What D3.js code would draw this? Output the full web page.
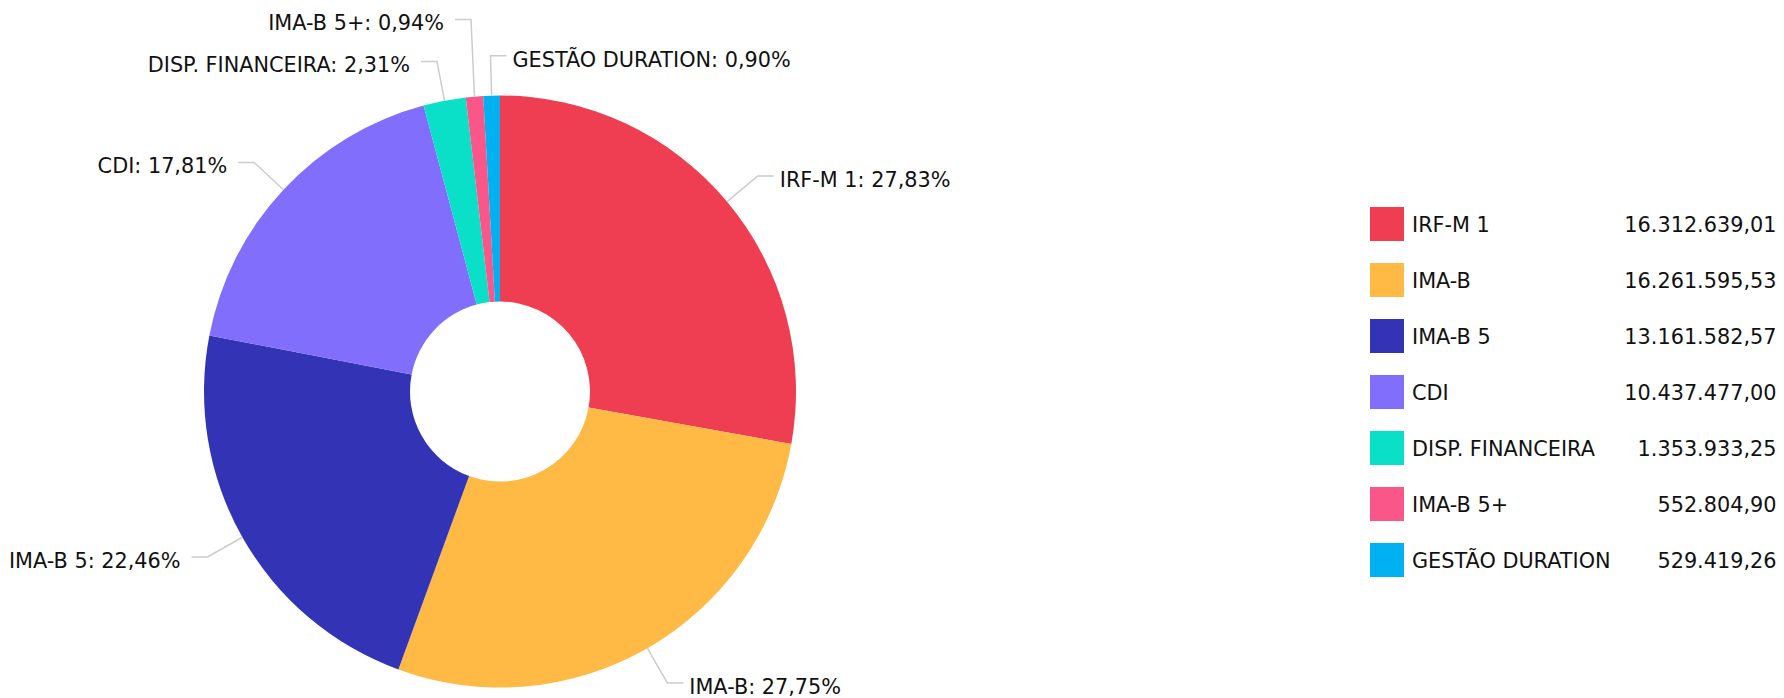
<!DOCTYPE html>
<html>
<head>
<meta charset="utf-8">
<script src="https://cdn.jsdelivr.net/npm/d3@7"></script>
<style>
  html, body { margin: 0; padding: 0; background: #fff; }
  svg { display: block; }
  text { font-family: Verdana, "DejaVu Sans", sans-serif; fill: #111; }
</style>
</head>
<body>
<svg id="chart" width="1784" height="698"></svg>
<script>
// ---- data ----
const categories = ["IRF-M 1", "IMA-B", "IMA-B 5", "CDI", "DISP. FINANCEIRA", "IMA-B 5+", "GESTÃO DURATION"];
const values = [16312639.01, 16261595.53, 13161582.57, 10437477.00, 1353933.25, 552804.90, 529419.26];
const colors = ["#ef3e52", "#ffba45", "#3333b5", "#826efd", "#0ae0c8", "#fa5689", "#00b1f2"];

// ---- layout ----
const W = 1784, H = 698;
const cx = 500, cy = 391.5, R = 296, R0 = 90;
const len1 = 40, len2 = 16, labelGap = 42;
const fontSize = 20.8;

const loc = d3.formatLocale({decimal: ",", thousands: ".", grouping: [3], currency: ["R$ ", ""]});
const fmtVal = loc.format(",.2f");
const fmtPct = loc.format(".2f");

const svg = d3.select("#chart");
const total = d3.sum(values);
const data = categories.map((c, i) => ({name: c, value: values[i], color: colors[i]}));

const pie = d3.pie().sort(null).value(d => d.value);
const arcs = pie(data);
const arc = d3.arc().innerRadius(R0).outerRadius(R);

const g = svg.append("g").attr("transform", `translate(${cx},${cy})`);
g.selectAll("path.slice").data(arcs).join("path")
  .attr("class", "slice")
  .attr("d", arc)
  .attr("fill", d => d.data.color);

// label layout
const labels = arcs.map(a => {
  const mid = (a.startAngle + a.endAngle) / 2;
  const s = Math.sin(mid), c = Math.cos(mid);
  return {
    a, s, c,
    ax: R * s, ay: -R * c,
    ex: (R + len1) * s, ey: -(R + len1) * c,
    right: s > -0.05,
    text: a.data.name + ": " + fmtPct(a.data.value / total * 100) + "%"
  };
});
[true, false].forEach(side => {
  const arr = labels.filter(l => l.right === side).sort((p, q) => p.ey - q.ey);
  for (let i = arr.length - 2; i >= 0; i--) {
    if (arr[i].ey > arr[i + 1].ey - labelGap) arr[i].ey = arr[i + 1].ey - labelGap;
  }
});

const lg = g.append("g");
labels.forEach(l => {
  const hx = l.ex + (l.right ? len2 : -len2);
  lg.append("polyline")
    .attr("points", [[l.ax, l.ay], [l.ex, l.ey], [hx, l.ey]].map(p => p.join(",")).join(" "))
    .attr("fill", "none")
    .attr("stroke", "#cccccc")
    .attr("stroke-width", 1.5);
  lg.append("text")
    .attr("x", l.right ? hx + 6 : hx - 11)
    .attr("y", l.ey + 11)
    .attr("text-anchor", l.right ? "start" : "end")
    .attr("font-size", fontSize)
    .text(l.text);
});

// legend
const legY = d3.scaleBand().domain(categories).range([207, 207 + 56 * categories.length]).paddingInner(0);
const leg = svg.append("g");
const rows = leg.selectAll("g.row").data(data).join("g")
  .attr("class", "row")
  .attr("transform", d => `translate(1370,${legY(d.name)})`);
rows.append("rect").attr("width", 34).attr("height", 34).attr("fill", d => d.color);
rows.append("text").attr("x", 42).attr("y", 17 + 8).attr("font-size", fontSize).text(d => d.name);
rows.append("text").attr("x", 1776.5 - 1370).attr("y", 17 + 8).attr("font-size", fontSize)
  .attr("text-anchor", "end").text(d => fmtVal(d.value));
</script>
</body>
</html>
